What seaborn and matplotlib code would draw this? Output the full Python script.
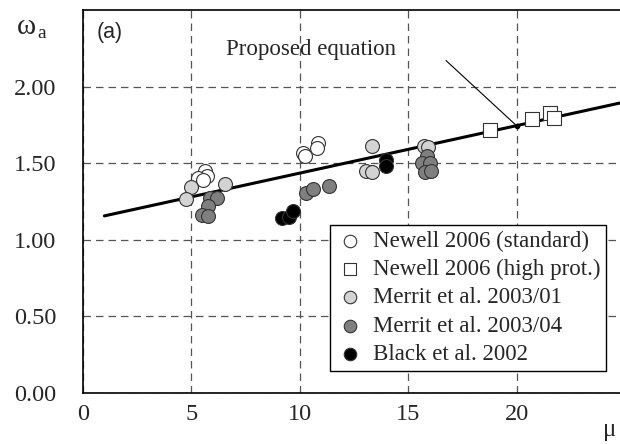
import numpy as np
import pandas as pd
import matplotlib
matplotlib.use("Agg")
import matplotlib.pyplot as plt
import seaborn as sns

# -----------------------------
# Data
# -----------------------------
newell_std_mu = [5.64, 5.71, 5.31, 5.54, 10.14, 10.25, 10.86, 10.78]
newell_std_w = [1.447, 1.418, 1.405, 1.39, 1.567, 1.545, 1.632, 1.60]

newell_high_mu = [18.8, 20.72, 21.53, 21.72]
newell_high_w = [1.719, 1.789, 1.828, 1.795]

merrit01_mu = [4.98, 4.76, 6.56, 13.36, 13.04, 13.35, 15.74, 15.9]
merrit01_w = [1.342, 1.266, 1.366, 1.614, 1.451, 1.44, 1.609, 1.605]

merrit04_mu = [5.87, 6.17, 5.77, 5.48, 5.77, 10.29, 10.6, 11.36,
               15.88, 15.62, 16.0, 15.77, 16.08]
merrit04_w = [1.273, 1.275, 1.22, 1.163, 1.157, 1.305, 1.331, 1.348,
              1.55, 1.50, 1.50, 1.445, 1.45]

black_mu = [9.17, 9.5, 9.71, 13.96, 13.96]
black_w = [1.142, 1.152, 1.185, 1.524, 1.48]

# proposed equation: w = a + b * mu
eq_a = 1.125
eq_b = 0.031
eq_mu = [1, 25]
annot_mu = 20

SERIF = ["Liberation Serif", "DejaVu Serif"]
SANS = ["Liberation Sans", "DejaVu Sans"]

# -----------------------------
# Figure
# -----------------------------
sns.set_style("white")
plt.rcParams["font.family"] = SERIF

fig = plt.figure(figsize=(6.2, 4.44), dpi=100)
ax = fig.add_axes([0.1334, 0.1149, 1.008 - 0.1334, 0.9775 - 0.1149])

eq_df = pd.DataFrame({"mu": eq_mu, "w": [eq_a + eq_b * m for m in eq_mu]})
sns.lineplot(data=eq_df, x="mu", y="w", color="black", lw=2.2, ax=ax,
             zorder=2, legend=False)

series = [
    ("Newell 2006 (standard)", newell_std_mu, newell_std_w, "o", "white"),
    ("Newell 2006 (high prot.)", newell_high_mu, newell_high_w, "s", "white"),
    ("Merrit et al. 2003/01", merrit01_mu, merrit01_w, "o", "#d3d3d3"),
    ("Merrit et al. 2003/04", merrit04_mu, merrit04_w, "o", "#7f7f7f"),
    ("Black et al. 2002", black_mu, black_w, "o", "black"),
]
for label, xs, ys, mk, fc in series:
    sns.scatterplot(x=xs, y=ys, marker=mk, s=100, color=fc,
                    edgecolor="#333333", linewidth=0.8, ax=ax,
                    label=label, zorder=3)

# annotation
annot_w = eq_a + eq_b * annot_mu
ax.text(6.6, 2.245, "Proposed equation", fontsize=16.5,
        ha="left", va="center")
ax.annotate("", xy=(annot_mu, annot_w), xytext=(16.75, 2.17),
            arrowprops=dict(arrowstyle="-", color="black", lw=0.8,
                            shrinkA=0, shrinkB=0))
ax.plot([annot_mu], [annot_w], "o", color="black", ms=3, zorder=4)

# axes styling
ax.set_xlim(0, 25)
ax.set_ylim(0, 2.5)
ax.set_xticks([0, 5, 10, 15, 20])
ax.set_yticks([0, 0.5, 1.0, 1.5, 2.0])
ax.set_yticklabels(["0.00", "0.50", "1.00", "1.50", "2.00"])
ax.set_xlabel("")
ax.set_ylabel("")
ax.grid(True, color="#555555", linestyle=(0, (6, 4)), lw=0.9)
ax.tick_params(axis="y", direction="out", length=7, color="#555555",
               labelsize=17.5, pad=12)
ax.tick_params(axis="x", direction="out", length=6, color="#555555",
               labelsize=17.5, pad=2)
for side in ["left", "bottom", "top"]:
    ax.spines[side].set_color("black")
    ax.spines[side].set_linewidth(1.2)
ax.spines["right"].set_visible(False)

leg = ax.legend(loc="lower right", bbox_to_anchor=(0.9656, 0.0576),
                fontsize=16.5, frameon=True, fancybox=False,
                borderpad=0.25, labelspacing=0.32, handletextpad=0.35,
                handlelength=1.3, borderaxespad=0, markerscale=0.9)
leg.get_frame().set_edgecolor("black")
leg.get_frame().set_linewidth(1.0)
leg.get_frame().set_alpha(1)

# labels
fig.text(17 / 620, 1 - 34 / 444, "ω", fontsize=21, ha="left", va="baseline")
fig.text(37 / 620, 1 - 38 / 444, "a", fontsize=14, ha="left", va="baseline")
fig.text(97 / 620, 1 - 38 / 444, "(a)", fontsize=15.5, family=SANS,
         ha="left", va="baseline")
fig.text(610 / 620, 1 - 436 / 444, "μ", fontsize=18, ha="center",
         va="baseline")

fig.savefig("out.png", dpi=100)
plt.close()
